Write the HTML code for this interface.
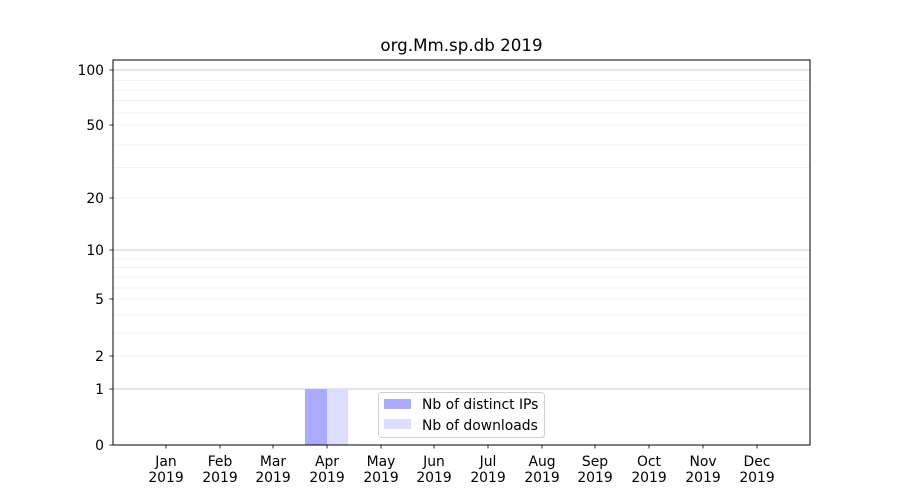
<!DOCTYPE html>
<html><head><meta charset="utf-8"><style>
html,body{margin:0;padding:0;background:#fff;}
svg{display:block;font-family:"DejaVu Sans","Liberation Sans",sans-serif;}
</style></head><body>
<svg width="900" height="500" viewBox="0 0 900 500" xmlns="http://www.w3.org/2000/svg">
<rect width="900" height="500" fill="#fff"/>
<g stroke="#ececec" stroke-width="0.8">
<line x1="113" x2="810" y1="356" y2="356"/>
<line x1="113" x2="810" y1="333" y2="333"/>
<line x1="113" x2="810" y1="315" y2="315"/>
<line x1="113" x2="810" y1="299" y2="299"/>
<line x1="113" x2="810" y1="288" y2="288"/>
<line x1="113" x2="810" y1="277" y2="277"/>
<line x1="113" x2="810" y1="267.5" y2="267.5"/>
<line x1="113" x2="810" y1="259" y2="259"/>
<line x1="113" x2="810" y1="198" y2="198"/>
<line x1="113" x2="810" y1="167.6" y2="167.6"/>
<line x1="113" x2="810" y1="145" y2="145"/>
<line x1="113" x2="810" y1="125" y2="125"/>
<line x1="113" x2="810" y1="113" y2="113"/>
<line x1="113" x2="810" y1="100.7" y2="100.7"/>
<line x1="113" x2="810" y1="90" y2="90"/>
<line x1="113" x2="810" y1="80.6" y2="80.6"/>
</g>
<g stroke="#cccccc" stroke-width="1">
<line x1="113" x2="810" y1="389" y2="389"/>
<line x1="113" x2="810" y1="250" y2="250"/>
<line x1="113" x2="810" y1="70" y2="70"/>
</g>
<rect x="305" y="389" width="22" height="56" fill="#aaaaff"/>
<rect x="327" y="389" width="21" height="56" fill="#ddddff"/>
<rect x="113" y="60" width="697" height="385" fill="none" stroke="#000" stroke-width="1"/>
<g stroke="#000" stroke-width="0.8">
<line x1="113" x2="109.5" y1="445" y2="445"/>
<line x1="113" x2="109.5" y1="389" y2="389"/>
<line x1="113" x2="109.5" y1="356" y2="356"/>
<line x1="113" x2="109.5" y1="299" y2="299"/>
<line x1="113" x2="109.5" y1="250" y2="250"/>
<line x1="113" x2="109.5" y1="198" y2="198"/>
<line x1="113" x2="109.5" y1="125" y2="125"/>
<line x1="113" x2="109.5" y1="70" y2="70"/>
</g>
<g font-size="13.9" text-anchor="end" fill="#000">
<text x="104" y="450">0</text>
<text x="104" y="394">1</text>
<text x="104" y="361">2</text>
<text x="104" y="304">5</text>
<text x="104" y="255">10</text>
<text x="104" y="203">20</text>
<text x="104" y="130">50</text>
<text x="104" y="75">100</text>
</g>
<g stroke="#000" stroke-width="0.8">
<line x1="166" x2="166" y1="445" y2="448.5"/>
<line x1="220" x2="220" y1="445" y2="448.5"/>
<line x1="273" x2="273" y1="445" y2="448.5"/>
<line x1="327" x2="327" y1="445" y2="448.5"/>
<line x1="381" x2="381" y1="445" y2="448.5"/>
<line x1="434" x2="434" y1="445" y2="448.5"/>
<line x1="488" x2="488" y1="445" y2="448.5"/>
<line x1="542" x2="542" y1="445" y2="448.5"/>
<line x1="595" x2="595" y1="445" y2="448.5"/>
<line x1="649" x2="649" y1="445" y2="448.5"/>
<line x1="703" x2="703" y1="445" y2="448.5"/>
<line x1="757" x2="757" y1="445" y2="448.5"/>
</g>
<g font-size="13.9" text-anchor="middle" fill="#000">
<text x="166" y="466">Jan</text><text x="166" y="482">2019</text>
<text x="220" y="466">Feb</text><text x="220" y="482">2019</text>
<text x="273" y="466">Mar</text><text x="273" y="482">2019</text>
<text x="327" y="466">Apr</text><text x="327" y="482">2019</text>
<text x="381" y="466">May</text><text x="381" y="482">2019</text>
<text x="434" y="466">Jun</text><text x="434" y="482">2019</text>
<text x="488" y="466">Jul</text><text x="488" y="482">2019</text>
<text x="542" y="466">Aug</text><text x="542" y="482">2019</text>
<text x="595" y="466">Sep</text><text x="595" y="482">2019</text>
<text x="649" y="466">Oct</text><text x="649" y="482">2019</text>
<text x="703" y="466">Nov</text><text x="703" y="482">2019</text>
<text x="757" y="466">Dec</text><text x="757" y="482">2019</text>
</g>
<text x="461.5" y="51" font-size="16.7" text-anchor="middle">org.Mm.sp.db 2019</text>
<rect x="378.5" y="392.5" width="166" height="45" rx="3" fill="#fff" fill-opacity="0.8" stroke="#d0d0d0"/>
<rect x="384" y="399" width="27" height="10" fill="#aaaaff"/>
<rect x="384" y="419" width="27" height="10" fill="#ddddff"/>
<text x="422" y="409" font-size="13.9">Nb of distinct IPs</text>
<text x="422" y="430" font-size="13.9">Nb of downloads</text>
</svg>
</body></html>
